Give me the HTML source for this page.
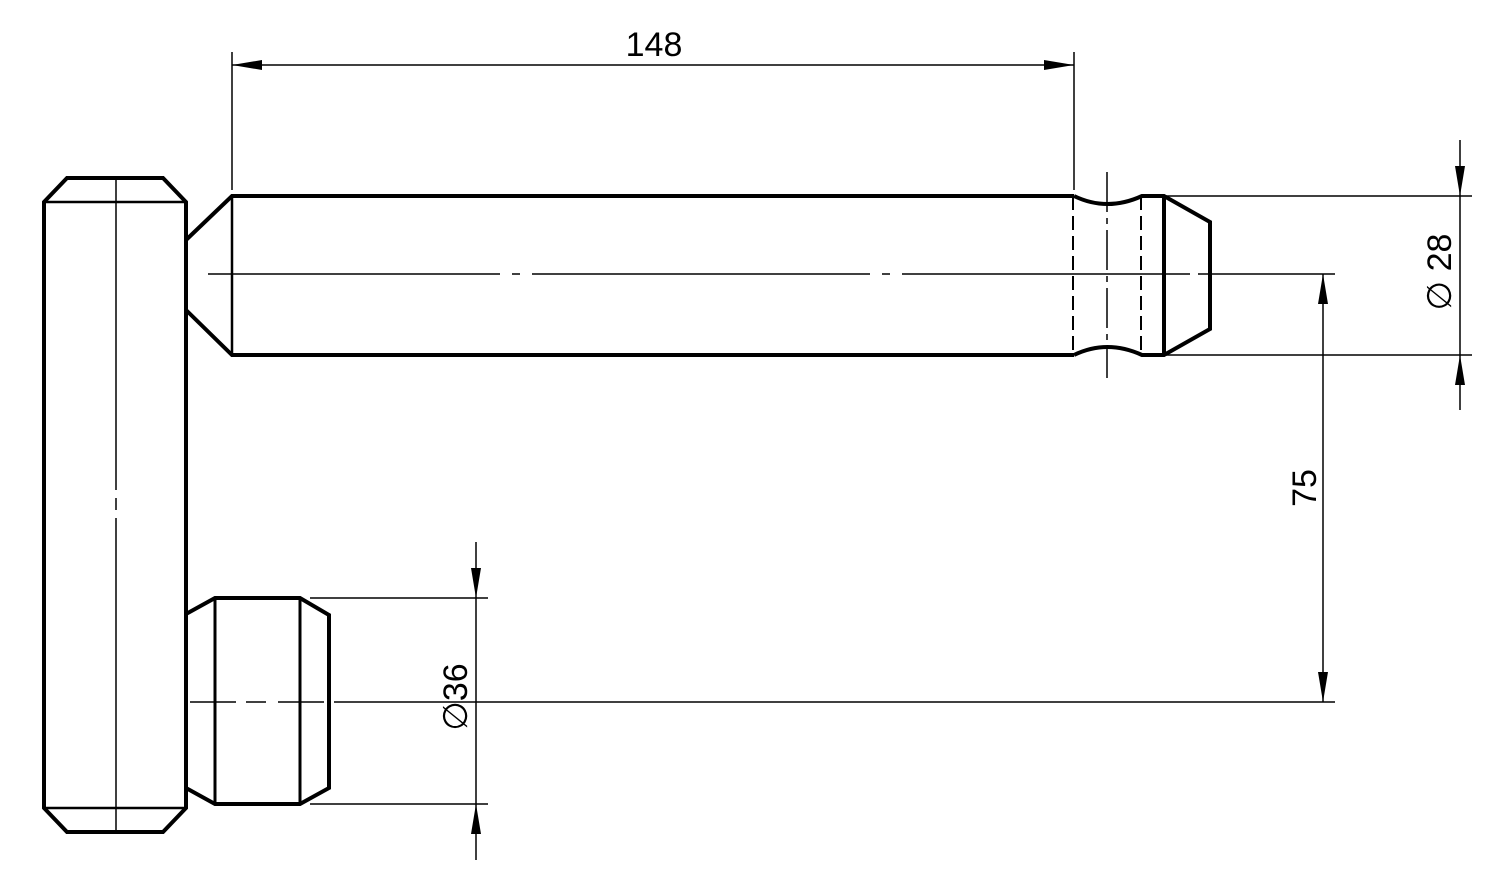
<!DOCTYPE html>
<html><head><style>html,body{margin:0;background:#fff}</style></head><body>
<svg width="1488" height="876" xmlns="http://www.w3.org/2000/svg" font-family="Liberation Sans, DejaVu Sans, sans-serif">
<g fill="none" stroke="#000" stroke-linejoin="miter">
<path d="M44 202 L67 178 L163 178 L186 202 L186 808 L163 832 L67 832 L44 808 Z" stroke-width="4"/>
<line x1="44" y1="202" x2="186" y2="202" stroke-width="2.5"/>
<line x1="44" y1="808" x2="186" y2="808" stroke-width="2.5"/>
<line x1="116" y1="178" x2="116" y2="490" stroke-width="1.5"/>
<line x1="116" y1="498" x2="116" y2="510" stroke-width="1.5"/>
<line x1="116" y1="518" x2="116" y2="832" stroke-width="1.5"/>
<path d="M186 240 L232 196 L1074 196 M186 310 L232 355 L1074 355" stroke-width="4"/>
<line x1="232" y1="196" x2="232" y2="355" stroke-width="2.5"/>
<path d="M1074 196 Q1107 212 1142 196 L1164 196 L1210 222 L1210 329 L1164 355 L1142 355 Q1107 339 1074 355" stroke-width="4"/>
<line x1="1164" y1="196" x2="1164" y2="355" stroke-width="4"/>
<line x1="1073" y1="196" x2="1073" y2="355" stroke-width="2" stroke-dasharray="14 6"/>
<line x1="1141" y1="196" x2="1141" y2="355" stroke-width="2" stroke-dasharray="14 6"/>
<line x1="1107" y1="172" x2="1107" y2="378" stroke-width="1.5" stroke-dasharray="40 6 6 6"/>
<path d="M208 274 H500 M512 274 H520 M532 274 H870 M882 274 H890 M902 274 H1190 M1198 274 H1335" stroke-width="1.5"/>
<path d="M186 614 L215 598 L300 598 L329 615 L329 788 L300 804 L215 804 L186 788" stroke-width="4"/>
<line x1="215" y1="598" x2="215" y2="804" stroke-width="3"/>
<line x1="300" y1="598" x2="300" y2="804" stroke-width="3"/>
<path d="M190 702 H236 M246 702 H266 M278 702 H324 M334 702 H1335" stroke-width="1.5"/>
<g stroke-width="1.5">
<line x1="232" y1="52" x2="232" y2="190"/>
<line x1="1074" y1="52" x2="1074" y2="190"/>
<line x1="232" y1="65" x2="1074" y2="65"/>
<line x1="1164" y1="196" x2="1472" y2="196"/>
<line x1="1164" y1="355" x2="1472" y2="355"/>
<line x1="1460" y1="140" x2="1460" y2="410"/>
<line x1="1323" y1="274" x2="1323" y2="702"/>
<line x1="310" y1="598" x2="488" y2="598"/>
<line x1="310" y1="804" x2="488" y2="804"/>
<line x1="476" y1="542" x2="476" y2="860"/>
</g>
</g>
<g fill="#000">
<path d="M232 65 L262 60 L262 70 Z"/>
<path d="M1074 65 L1044 60 L1044 70 Z"/>
<path d="M1460 196 L1455 166 L1465 166 Z"/>
<path d="M1460 355 L1455 385 L1465 385 Z"/>
<path d="M1323 274 L1318 304 L1328 304 Z"/>
<path d="M1323 702 L1318 672 L1328 672 Z"/>
<path d="M476 598 L471 568 L481 568 Z"/>
<path d="M476 804 L471 834 L481 834 Z"/>
</g>
<g font-size="34" fill="#000">
<text x="654" y="56" text-anchor="middle">148</text>
<text transform="translate(1316,488) rotate(-90)" text-anchor="middle">75</text>
<text transform="translate(1451,272) rotate(-90)" text-anchor="middle">∅ 28</text>
<text transform="translate(467,697) rotate(-90)" text-anchor="middle">∅36</text>
</g>
</svg>
</body></html>
